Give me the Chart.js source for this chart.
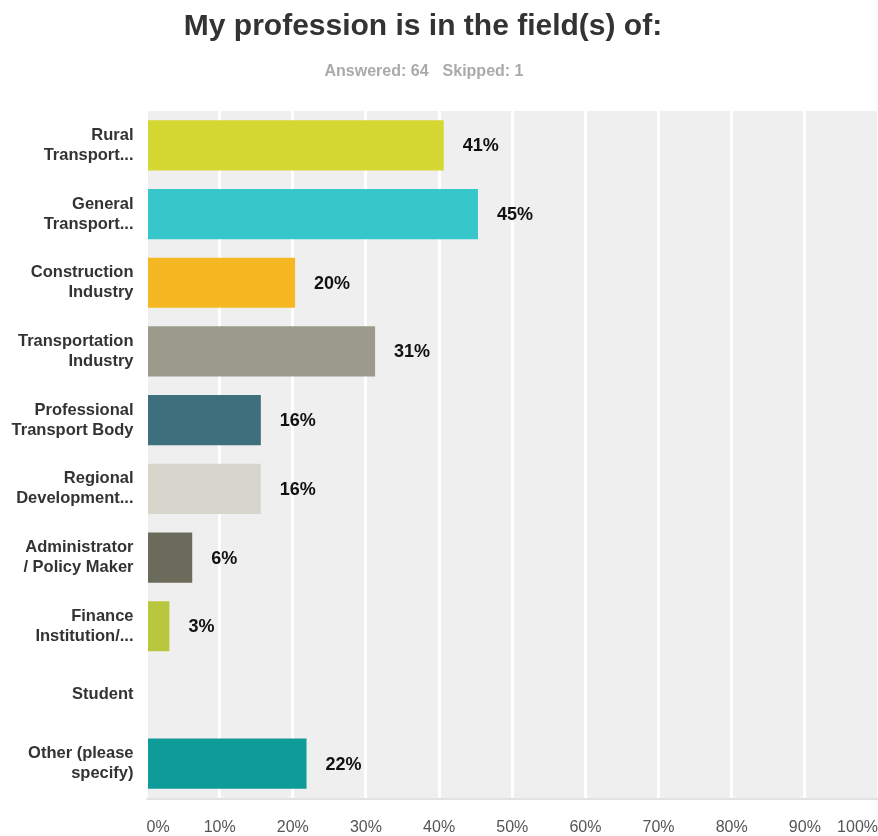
<!DOCTYPE html>
<html>
<head>
<meta charset="utf-8">
<script src="https://cdn.jsdelivr.net/npm/chart.js@4"></script>
<style>
  html, body { margin: 0; padding: 0; background: #fff; }
  #wrap { position: relative; width: 878px; height: 836px; }
  #title { position: absolute; left: 0; top: 7px; width: 846px; text-align: center;
    font: bold 30px "Liberation Sans", Arial, sans-serif; line-height: 36px; color: #333; }
  #sub { position: absolute; left: 0; top: 61px; width: 848px; text-align: center;
    font: bold 16px "Liberation Sans", Arial, sans-serif; line-height: 20px; color: #aaa; }
  #sub span + span { margin-left: 14px; }
  canvas { position: absolute; left: 0; top: 0; }
</style>
</head>
<body>
<div id="wrap">
  <canvas id="c" width="878" height="836"></canvas>
  <div id="title">My profession is in the field(s) of:</div>
  <div id="sub"><span>Answered: 64</span><span>Skipped: 1</span></div>
</div>
<script>
const categories = [
  ["Rural", "Transport..."],
  ["General", "Transport..."],
  ["Construction", "Industry"],
  ["Transportation", "Industry"],
  ["Professional", "Transport Body"],
  ["Regional", "Development..."],
  ["Administrator", "/ Policy Maker"],
  ["Finance", "Institution/..."],
  ["Student"],
  ["Other (please", "specify)"]
];
const values = [40.63, 45.31, 20.31, 31.25, 15.63, 15.63, 6.25, 3.13, 0, 21.88];
const valueLabels = ["41%", "45%", "20%", "31%", "16%", "16%", "6%", "3%", "", "22%"];
const barColors = ["#d5d733", "#37c6c9", "#f5b823", "#9b9a8b", "#3e6f7d", "#d6d6cc", "#6b6b5b", "#b9c73e", "#cccccc", "#0e9c99"];
const xTicks = [0, 10, 20, 30, 40, 50, 60, 70, 80, 90, 100];

const bgPlugin = {
  id: 'bg',
  beforeDraw(chart) {
    const a = chart.chartArea, ctx = chart.ctx;
    ctx.save();
    ctx.fillStyle = '#efefef';
    ctx.fillRect(a.left, a.top, a.right - a.left, a.bottom - a.top);
    ctx.fillStyle = '#e2e2e2';
    ctx.fillRect(a.left, a.bottom, a.right - a.left, 2);
    ctx.restore();
  }
};
const valuePlugin = {
  id: 'vals',
  afterDatasetsDraw(chart) {
    const ctx = chart.ctx;
    const meta = chart.getDatasetMeta(0);
    ctx.save();
    ctx.font = 'bold 18px "Liberation Sans", Arial, sans-serif';
    ctx.fillStyle = '#111';
    ctx.textAlign = 'left';
    ctx.textBaseline = 'middle';
    meta.data.forEach((bar, i) => {
      if (valueLabels[i]) ctx.fillText(valueLabels[i], bar.x + 19, bar.y + 1);
    });
    ctx.restore();
  }
};

new Chart(document.getElementById('c'), {
  type: 'bar',
  data: {
    labels: categories,
    datasets: [{
      data: values,
      backgroundColor: barColors,
      borderWidth: 0,
      categoryPercentage: 1,
      barPercentage: 0.73
    }]
  },
  plugins: [bgPlugin, valuePlugin],
  options: {
    indexAxis: 'y',
    responsive: false,
    animation: false,
    devicePixelRatio: 1,
    layout: { padding: { top: 111, left: 0, right: 0, bottom: 0 } },
    plugins: { legend: { display: false }, tooltip: { enabled: false }, title: { display: false } },
    scales: {
      x: {
        min: 0, max: 100,
        afterBuildTicks(scale) { scale.ticks = xTicks.map(v => ({ value: v })); },
        afterFit(scale) { scale.height = 38; scale.paddingLeft = 0; scale.paddingRight = 0; },
        grid: { color: '#ffffff', lineWidth: 3, drawTicks: false },
        border: { display: false },
        ticks: {
          align: 'inner',
          padding: 20,
          color: '#555',
          font: { family: '"Liberation Sans", Arial, sans-serif', size: 16 },
          callback: v => v + '%'
        }
      },
      y: {
        afterFit(scale) { scale.width = 146.5; scale.paddingTop = 0; scale.paddingBottom = 0; },
        grid: { display: false, drawTicks: false },
        border: { display: false },
        ticks: {
          padding: 13,
          color: '#333',
          font: { family: '"Liberation Sans", Arial, sans-serif', size: 16.5, weight: 'bold', lineHeight: 1.22 }
        }
      }
    }
  }
});
</script>
</body>
</html>
